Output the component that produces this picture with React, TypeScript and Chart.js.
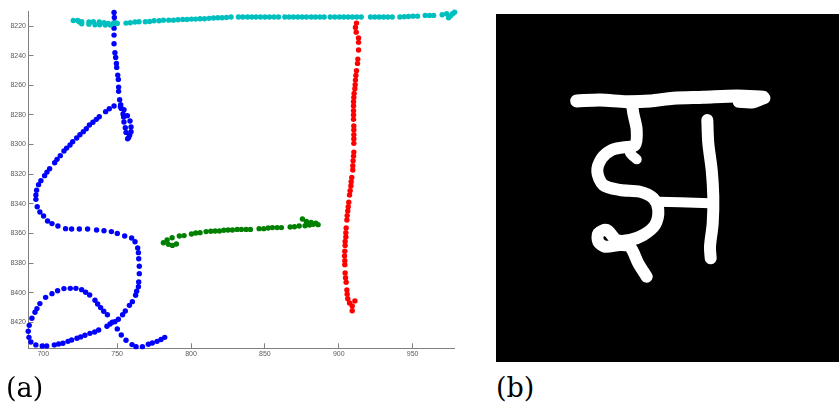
import React, { useEffect, useRef } from "react";
import { Chart, registerables } from "chart.js";

Chart.register(...registerables);

const xTickValues = [700, 750, 800, 850, 900, 950];
const yTickValues = [8220, 8240, 8260, 8280, 8300, 8320, 8340, 8360, 8380, 8400, 8420];

const cyanX = [720.3,723.3,724.2,726.0,726.0,730.9,730.9,733.9,735.0,737.9,738.2,741.1,742.0,744.0,745.4,747.4,748.8,750.1,756.0,758.9,762.1,764.8,769.1,772.0,775.0,778.4,781.3,784.9,788.1,791.2,794.4,797.3,800.3,803.2,806.1,809.1,812.2,815.2,818.1,821.0,824.0,827.1,832.1,835.0,838.2,841.1,844.0,847.0,850.1,853.1,856.2,859.2,863.5,866.4,869.3,872.3,875.2,878.1,881.3,884.2,887.2,890.1,894.2,897.3,900.5,903.4,906.4,909.3,912.2,915.2,921.5,924.4,927.4,930.3,933.2,936.2,941.4,944.3,947.2,950.2,953.3,958.5,961.5,964.2,970.0,973.0,974.3,975.7,977.0,978.4];
const cyanY = [8216.2,8216.2,8217.1,8217.1,8218.4,8217.3,8218.7,8217.1,8219.1,8217.3,8219.1,8217.8,8219.3,8218.2,8219.3,8218.2,8217.8,8218.2,8218.0,8217.8,8217.3,8217.1,8217.1,8216.9,8216.4,8216.4,8216.0,8216.0,8216.0,8215.7,8215.5,8215.5,8215.3,8215.3,8215.1,8215.1,8214.8,8214.6,8214.4,8214.4,8214.2,8213.9,8213.9,8213.9,8213.9,8213.9,8213.9,8213.9,8213.9,8213.9,8213.9,8213.9,8213.9,8213.9,8213.9,8213.9,8213.9,8213.9,8213.9,8213.9,8213.9,8213.9,8213.9,8213.9,8213.9,8213.9,8213.9,8213.9,8213.9,8213.9,8213.9,8213.9,8213.9,8213.9,8213.9,8213.9,8213.9,8213.7,8213.5,8213.3,8213.3,8212.8,8212.8,8212.8,8212.4,8211.7,8214.4,8213.0,8211.7,8210.6];

const greenX = [781.3,783.8,784.7,787.2,787.4,790.1,792.1,795.3,800.3,803.2,806.1,810.2,813.4,816.3,819.2,822.2,825.1,828.0,831.2,834.1,837.3,840.2,846.1,849.2,852.2,855.1,858.3,861.2,867.1,870.0,873.2,875.4,878.1,877.2,880.2,881.3,882.7,884.5,886.0];
const greenY = [8366.3,8364.5,8367.4,8362.9,8368.1,8367.2,8361.8,8361.5,8360.4,8359.7,8359.5,8358.8,8358.6,8358.4,8358.4,8357.9,8357.7,8357.7,8357.3,8357.3,8357.3,8357.3,8356.8,8356.8,8356.4,8356.1,8356.1,8356.1,8355.7,8355.5,8355.0,8350.3,8351.9,8354.8,8354.3,8352.7,8353.9,8353.2,8354.1];

const redX = [912.0,911.3,911.8,913.4,913.4,913.4,912.9,912.7,912.0,911.6,911.3,911.1,910.9,910.4,910.2,910.0,910.0,910.0,910.0,910.0,910.2,910.2,910.2,910.2,910.2,910.2,910.0,909.7,909.5,909.5,908.8,908.4,908.2,907.7,907.3,906.8,906.4,906.1,905.7,905.5,905.0,904.8,904.8,904.3,904.3,904.1,903.9,904.1,904.1,904.3,904.6,905.0,905.5,905.7,906.1,907.3,909.1,909.1,910.9];
const redY = [8218.0,8220.9,8224.1,8228.1,8231.0,8236.2,8242.3,8245.2,8250.2,8253.3,8256.5,8259.6,8262.3,8265.5,8268.2,8271.1,8274.0,8277.2,8280.1,8283.0,8287.5,8290.2,8293.4,8296.3,8299.2,8305.1,8307.8,8310.9,8314.3,8317.2,8322.2,8325.1,8328.0,8331.2,8334.1,8339.0,8342.0,8344.9,8348.0,8351.0,8356.4,8359.5,8362.4,8365.4,8368.1,8372.1,8375.3,8378.4,8381.1,8386.7,8389.9,8393.0,8398.2,8401.1,8404.1,8407.0,8409.0,8412.2,8405.6];

const blueX = [747.9,748.1,748.1,747.9,747.9,747.9,748.5,749.0,749.5,749.7,750.4,750.8,751.0,751.0,751.7,752.4,752.2,752.8,754.6,754.0,756.9,754.4,758.7,754.6,759.4,755.5,759.4,756.0,758.5,757.8,757.1,747.9,744.7,742.2,737.9,735.9,733.6,731.2,729.1,727.1,724.8,722.6,719.9,718.1,715.8,714.0,711.5,709.3,707.7,704.3,702.5,700.9,698.4,696.8,695.5,695.0,695.0,695.9,697.7,700.2,702.9,705.9,709.9,715.1,719.2,724.4,730.0,736.1,741.1,746.1,750.1,755.1,759.8,762.1,763.9,764.4,764.6,765.0,765.0,764.6,764.4,763.2,762.5,760.3,758.3,755.5,753.7,750.8,748.5,746.7,745.2,743.1,737.5,734.8,731.6,728.2,725.3,722.8,719.2,716.7,713.3,710.4,707.5,702.3,699.3,695.0,691.6,690.3,689.8,690.5,692.3,694.4,695.7,697.7,701.6,705.9,709.7,714.0,718.3,722.1,726.0,728.7,731.4,735.0,736.8,738.8,740.9,743.4,750.1,752.8,756.0,760.1,762.8,767.1,771.1,773.8,777.0,779.7,782.2];
const blueY = [8210.8,8214.2,8217.8,8221.4,8226.1,8231.9,8238.0,8241.2,8245.2,8247.9,8253.1,8256.0,8261.2,8264.1,8269.7,8273.1,8274.5,8275.6,8276.5,8279.4,8280.5,8281.4,8284.1,8284.8,8288.2,8288.6,8291.3,8291.8,8293.6,8295.2,8296.1,8274.0,8275.8,8277.8,8281.2,8283.0,8285.0,8286.8,8289.3,8291.3,8293.4,8295.6,8298.1,8300.3,8302.4,8304.4,8307.5,8310.0,8312.3,8316.3,8318.6,8321.0,8324.4,8327.1,8330.9,8334.1,8337.0,8342.0,8345.6,8348.3,8351.6,8353.4,8355.0,8356.8,8357.0,8357.0,8357.0,8357.7,8358.2,8358.8,8360.0,8361.8,8363.1,8365.6,8369.9,8373.0,8377.1,8382.2,8387.2,8392.8,8396.0,8399.1,8401.8,8406.1,8408.6,8412.4,8414.9,8418.0,8419.6,8420.0,8421.2,8422.7,8425.2,8426.6,8427.5,8428.8,8429.9,8430.8,8432.0,8432.9,8434.2,8434.7,8435.3,8436.0,8436.0,8435.3,8433.3,8430.2,8426.1,8422.1,8417.3,8413.3,8410.8,8407.4,8403.2,8400.7,8398.7,8397.3,8397.1,8397.1,8398.0,8399.8,8401.6,8405.2,8407.7,8410.1,8412.6,8414.9,8424.5,8428.6,8432.2,8435.1,8436.5,8436.5,8434.9,8434.0,8432.9,8431.7,8430.2];

// Handwritten glyph strokes, in image pixel units.
const barX = [80.7,104,130.7,154,177.3,207.3,240.7,267.3];
const barY = [87,86,87.7,87,84.3,83.3,82,83.3];
const barTailX = [242.3,257.3,269];
const barTailY = [88.3,88.7,84.3];
const curveX = [135.7,137.3,140.7,139,127.3,115.7,105.7,101.3,107.3,124,144,157.3,162.3,159,147.3,134,120.7,110.7,102.3,102.3,109,124,134,142.3,150.7];
const curveY = [87.7,99.3,116,131,133.3,136,144.3,157.7,171,176,177.7,184.3,196,211,221,226,226,216,219.3,227.7,232.7,231,232.7,249.3,262.7];
const hookX = [135.7,134,140.7];
const hookY = [134.3,139,145.3];
const stemX = [211.3,212.3,215.7,217.3,216.7,214,214.7];
const stemY = [106,129.3,156,182.7,209.3,232.7,244.3];
const linkX = [162.3,184,214];
const linkY = [187.7,188.3,189.3];

const zip = (xs: number[], ys: number[]) => xs.map((x, i) => ({ x, y: ys[i] }));

const dots = (color: string, xs: number[], ys: number[]) => ({
  data: zip(xs, ys),
  backgroundColor: color,
  borderColor: color,
  borderWidth: 0,
  pointRadius: 2.7,
  clip: false as const,
});

const stroke = (xs: number[], ys: number[], width: number) => ({
  data: zip(xs, ys),
  showLine: true,
  borderColor: "#ffffff",
  borderWidth: width,
  borderCapStyle: "round" as const,
  borderJoinStyle: "round" as const,
  tension: 0.3,
  pointRadius: 0,
});

const AXIS = "#808080";
const TICK_TEXT = "#5a5a5a";

export default function App() {
  const left = useRef<HTMLCanvasElement>(null);
  const right = useRef<HTMLCanvasElement>(null);

  useEffect(() => {
    const tickFont = { family: "'Liberation Sans'", size: 7 };
    const plot = new Chart(left.current!, {
      type: "scatter",
      data: {
        datasets: [
          dots("#00BFBF", cyanX, cyanY),
          dots("#008000", greenX, greenY),
          dots("#FF0000", redX, redY),
          dots("#0000FF", blueX, blueY),
        ],
      },
      options: {
        animation: false,
        responsive: false,
        layout: { autoPadding: false, padding: { top: 11.7, right: 16, left: 0, bottom: 0 } },
        plugins: { legend: { display: false }, tooltip: { enabled: false } },
        scales: {
          x: {
            type: "linear",
            min: 690,
            max: 978,
            afterBuildTicks: (s: any) => { s.ticks = xTickValues.map((value) => ({ value })); },
            afterFit: (s: any) => { s.height = 57.7; },
            border: { color: AXIS, width: 1 },
            grid: { drawOnChartArea: false, tickLength: -5, tickColor: AXIS },
            ticks: { color: TICK_TEXT, font: tickFont, padding: 7, maxRotation: 0, autoSkip: false, callback: (v: any) => String(v) },
          },
          y: {
            type: "linear",
            reverse: true,
            min: 8210.3,
            max: 8437.6,
            afterBuildTicks: (s: any) => { s.ticks = yTickValues.map((value) => ({ value })); },
            afterFit: (s: any) => { s.width = 28.5; },
            border: { color: AXIS, width: 1 },
            grid: { drawOnChartArea: false, tickLength: -5, tickColor: AXIS },
            ticks: { color: TICK_TEXT, font: tickFont, padding: 7.5, autoSkip: false, callback: (v: any) => String(v) },
          },
        },
      },
    } as any);

    const glyph = new Chart(right.current!, {
      type: "scatter",
      data: {
        datasets: [
          stroke(barX, barY, 13),
          stroke(barTailX, barTailY, 11),
          stroke(curveX, curveY, 12),
          stroke(hookX, hookY, 10),
          stroke(stemX, stemY, 12),
          stroke(linkX, linkY, 10),
        ],
      },
      options: {
        animation: false,
        responsive: false,
        layout: { autoPadding: false, padding: 0 },
        plugins: { legend: { display: false }, tooltip: { enabled: false } },
        scales: {
          x: { type: "linear", display: false, min: 0, max: 343 },
          y: { type: "linear", display: false, reverse: true, min: 0, max: 348 },
        },
      },
    } as any);

    return () => {
      plot.destroy();
      glyph.destroy();
    };
  }, []);

  const captionStyle: React.CSSProperties = {
    position: "absolute",
    top: 372,
    fontFamily: "'DejaVu Serif', serif",
    fontSize: 27,
    lineHeight: "32px",
    color: "#000",
  };

  return (
    <div style={{ position: "fixed", left: 0, top: 0, width: 839, height: 406, background: "#fff", overflow: "hidden" }}>
      <canvas ref={left} width={470} height={406} style={{ position: "absolute", left: 0, top: 0, display: "block" }} />
      <div style={{ position: "absolute", left: 496, top: 14, width: 343, height: 348, background: "#000", overflow: "hidden" }}>
        <canvas ref={right} width={343} height={348} style={{ display: "block", filter: "blur(0.6px)" }} />
      </div>
      <div style={{ ...captionStyle, left: 6 }}>(a)</div>
      <div style={{ ...captionStyle, left: 496 }}>(b)</div>
    </div>
  );
}
